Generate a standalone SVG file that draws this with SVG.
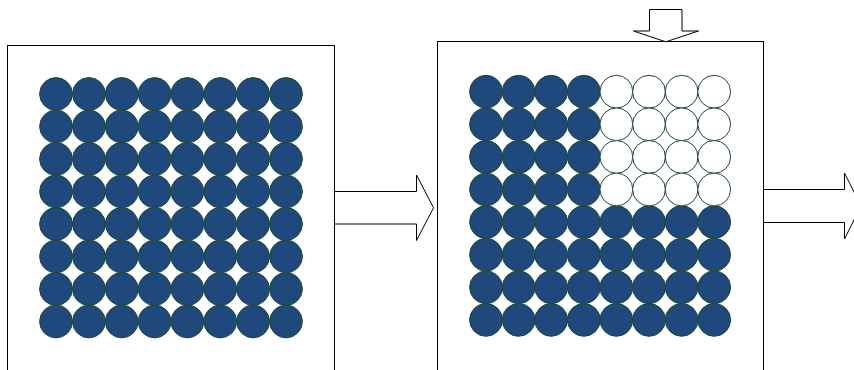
<svg xmlns="http://www.w3.org/2000/svg" width="854" height="370" viewBox="0 0 854 370">
<defs>
<style>
.box{fill:#fff;stroke:#000;stroke-width:1}
.arr{fill:#fff;stroke:#000;stroke-width:1}
.f{fill:#1F497D;stroke:#1E4A2E;stroke-width:1}
.e{fill:#fff;stroke:#1E4A2E;stroke-width:1}
</style>
<circle id="c" r="16.4"/>
</defs>
<rect width="854" height="370" fill="#fff"/>
<g id="box-left">
<rect class="box" x="7.5" y="45.5" width="327" height="340"/>
<g class="f">
<use href="#c" x="56" y="94"/><use href="#c" x="88.9" y="94"/><use href="#c" x="121.7" y="94"/><use href="#c" x="154.6" y="94"/><use href="#c" x="187.4" y="94"/><use href="#c" x="220.3" y="94"/><use href="#c" x="253.1" y="94"/><use href="#c" x="286" y="94"/>
<use href="#c" x="56" y="126.5"/><use href="#c" x="88.9" y="126.5"/><use href="#c" x="121.7" y="126.5"/><use href="#c" x="154.6" y="126.5"/><use href="#c" x="187.4" y="126.5"/><use href="#c" x="220.3" y="126.5"/><use href="#c" x="253.1" y="126.5"/><use href="#c" x="286" y="126.5"/>
<use href="#c" x="56" y="159"/><use href="#c" x="88.9" y="159"/><use href="#c" x="121.7" y="159"/><use href="#c" x="154.6" y="159"/><use href="#c" x="187.4" y="159"/><use href="#c" x="220.3" y="159"/><use href="#c" x="253.1" y="159"/><use href="#c" x="286" y="159"/>
<use href="#c" x="56" y="191.5"/><use href="#c" x="88.9" y="191.5"/><use href="#c" x="121.7" y="191.5"/><use href="#c" x="154.6" y="191.5"/><use href="#c" x="187.4" y="191.5"/><use href="#c" x="220.3" y="191.5"/><use href="#c" x="253.1" y="191.5"/><use href="#c" x="286" y="191.5"/>
<use href="#c" x="56" y="224"/><use href="#c" x="88.9" y="224"/><use href="#c" x="121.7" y="224"/><use href="#c" x="154.6" y="224"/><use href="#c" x="187.4" y="224"/><use href="#c" x="220.3" y="224"/><use href="#c" x="253.1" y="224"/><use href="#c" x="286" y="224"/>
<use href="#c" x="56" y="256.5"/><use href="#c" x="88.9" y="256.5"/><use href="#c" x="121.7" y="256.5"/><use href="#c" x="154.6" y="256.5"/><use href="#c" x="187.4" y="256.5"/><use href="#c" x="220.3" y="256.5"/><use href="#c" x="253.1" y="256.5"/><use href="#c" x="286" y="256.5"/>
<use href="#c" x="56" y="289"/><use href="#c" x="88.9" y="289"/><use href="#c" x="121.7" y="289"/><use href="#c" x="154.6" y="289"/><use href="#c" x="187.4" y="289"/><use href="#c" x="220.3" y="289"/><use href="#c" x="253.1" y="289"/><use href="#c" x="286" y="289"/>
<use href="#c" x="56" y="321.5"/><use href="#c" x="88.9" y="321.5"/><use href="#c" x="121.7" y="321.5"/><use href="#c" x="154.6" y="321.5"/><use href="#c" x="187.4" y="321.5"/><use href="#c" x="220.3" y="321.5"/><use href="#c" x="253.1" y="321.5"/><use href="#c" x="286" y="321.5"/>
</g>
</g>
<g id="box-right">
<rect class="box" x="437.5" y="41.5" width="326" height="345"/>
<g class="f">
<use href="#c" x="486" y="91.7"/><use href="#c" x="518.6" y="91.7"/><use href="#c" x="551.2" y="91.7"/><use href="#c" x="583.8" y="91.7"/>
<use href="#c" x="486" y="124.3"/><use href="#c" x="518.6" y="124.3"/><use href="#c" x="551.2" y="124.3"/><use href="#c" x="583.8" y="124.3"/>
<use href="#c" x="486" y="156.9"/><use href="#c" x="518.6" y="156.9"/><use href="#c" x="551.2" y="156.9"/><use href="#c" x="583.8" y="156.9"/>
<use href="#c" x="486" y="189.5"/><use href="#c" x="518.6" y="189.5"/><use href="#c" x="551.2" y="189.5"/><use href="#c" x="583.8" y="189.5"/>
<use href="#c" x="486" y="222.1"/><use href="#c" x="518.6" y="222.1"/><use href="#c" x="551.2" y="222.1"/><use href="#c" x="583.8" y="222.1"/><use href="#c" x="616.4" y="222.1"/><use href="#c" x="649" y="222.1"/><use href="#c" x="681.6" y="222.1"/><use href="#c" x="714.2" y="222.1"/>
<use href="#c" x="486" y="254.7"/><use href="#c" x="518.6" y="254.7"/><use href="#c" x="551.2" y="254.7"/><use href="#c" x="583.8" y="254.7"/><use href="#c" x="616.4" y="254.7"/><use href="#c" x="649" y="254.7"/><use href="#c" x="681.6" y="254.7"/><use href="#c" x="714.2" y="254.7"/>
<use href="#c" x="486" y="287.3"/><use href="#c" x="518.6" y="287.3"/><use href="#c" x="551.2" y="287.3"/><use href="#c" x="583.8" y="287.3"/><use href="#c" x="616.4" y="287.3"/><use href="#c" x="649" y="287.3"/><use href="#c" x="681.6" y="287.3"/><use href="#c" x="714.2" y="287.3"/>
<use href="#c" x="486" y="319.9"/><use href="#c" x="518.6" y="319.9"/><use href="#c" x="551.2" y="319.9"/><use href="#c" x="583.8" y="319.9"/><use href="#c" x="616.4" y="319.9"/><use href="#c" x="649" y="319.9"/><use href="#c" x="681.6" y="319.9"/><use href="#c" x="714.2" y="319.9"/>
</g>
<g class="e">
<use href="#c" x="616.4" y="91.7"/><use href="#c" x="649" y="91.7"/><use href="#c" x="681.6" y="91.7"/><use href="#c" x="714.2" y="91.7"/>
<use href="#c" x="616.4" y="124.3"/><use href="#c" x="649" y="124.3"/><use href="#c" x="681.6" y="124.3"/><use href="#c" x="714.2" y="124.3"/>
<use href="#c" x="616.4" y="156.9"/><use href="#c" x="649" y="156.9"/><use href="#c" x="681.6" y="156.9"/><use href="#c" x="714.2" y="156.9"/>
<use href="#c" x="616.4" y="189.5"/><use href="#c" x="649" y="189.5"/><use href="#c" x="681.6" y="189.5"/><use href="#c" x="714.2" y="189.5"/>
</g>
</g>
<g id="connectors">
<path class="arr" d="M334.5,191.5 H416.5 V175 L433.5,207.8 L416.5,240.5 V224 H334.5 Z"/>
<path class="arr" d="M649.5,9.5 H682 V31 H698.5 L665.8,41.8 L633.5,31 H649.5 Z"/>
<path class="arr" d="M763.5,189.5 H844.5 V173 L861,206 L844.5,239 V222.5 H763.5 Z"/>
</g>
</svg>
